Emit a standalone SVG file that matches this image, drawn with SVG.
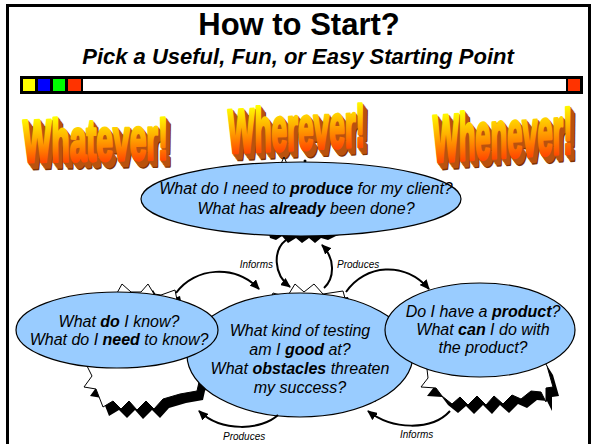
<svg xmlns="http://www.w3.org/2000/svg" width="591" height="444" viewBox="0 0 591 444">
  <defs>
    <style>
      .sans{font-family:"Liberation Sans",Arial,Helvetica,sans-serif}
      .title{font-weight:bold;fill:#000;text-anchor:middle}
      .q{font-style:italic;font-size:16px;fill:#000;text-anchor:middle}
      .b{font-weight:bold}
      .bubble{fill:#99ccff;stroke:#000;stroke-width:1.2}
      .burst{fill:#fff;stroke:#000;stroke-width:1}
      .shadow{fill:#000}
      .arrow{fill:none;stroke:#000;stroke-width:2;marker-end:url(#head)}
      .lbl{font-style:italic;font-size:10px;fill:#000}
      .wa{font-family:"Liberation Sans",Arial,sans-serif;font-weight:bold;font-size:50px;stroke-width:2.6;stroke-linejoin:round}
      .ext{fill:#b9520e;stroke:#b9520e}
      .ext2{fill:#7f3304;stroke:#7f3304}
      .face{fill:url(#waFace);stroke:url(#waFace)}
    </style>
    <linearGradient id="waFace" gradientUnits="userSpaceOnUse" x1="0" y1="-37" x2="0" y2="1">
      <stop offset="0" stop-color="#ffff00"/>
      <stop offset="0.45" stop-color="#ffb000"/>
      <stop offset="1" stop-color="#ff4800"/>
    </linearGradient>
    <marker id="head" markerWidth="10" markerHeight="9" refX="9" refY="4.5" orient="auto" markerUnits="userSpaceOnUse">
      <path d="M0,0 L10,4.5 L0,9 z" fill="#000"/>
    </marker>
    <!-- word art glyph runs, reused for extrusion layers and face -->
    <text id="wa1" class="wa" transform="matrix(0.6,-0.012,0,1.2,23,162)">Whatever!</text>
    <text id="wa2" class="wa" transform="matrix(0.56,-0.027,0,1.24,228,153)">Wherever!</text>
    <text id="wa3" class="wa" transform="matrix(0.545,-0.035,0,1.33,433,162)">Whenever!</text>
  </defs>

  <rect x="0" y="0" width="591" height="444" fill="#fff"/>
  <!-- slide frame -->
  <rect x="7.5" y="5.5" width="582" height="450" fill="none" stroke="#000" stroke-width="3"/>

  <!-- heading -->
  <g id="heading">
    <text class="sans title" x="299" y="35" font-size="31">How to Start?</text>
    <text class="sans title" x="298" y="64" font-size="22" font-style="italic">Pick a Useful, Fun, or Easy Starting Point</text>
  </g>

  <!-- colour strip -->
  <g id="strip">
    <rect x="20" y="76" width="563" height="18" fill="#000"/>
    <rect x="23" y="79" width="12" height="12" fill="#ffff00"/>
    <rect x="38" y="79" width="12" height="12" fill="#0000ff"/>
    <rect x="53" y="79" width="12" height="12" fill="#00ff00"/>
    <rect x="68" y="79" width="13" height="12" fill="#ff3300"/>
    <rect x="83" y="79" width="483" height="12" fill="#fff"/>
    <rect x="568" y="79" width="12" height="12" fill="#ff3300"/>
  </g>

  <!-- word art -->
  <g id="whatever">
    <use href="#wa1" class="ext2" x="5" y="7"/>
    <use href="#wa1" class="ext" x="4" y="5.6"/>
    <use href="#wa1" class="ext" x="3" y="4.2"/>
    <use href="#wa1" class="ext" x="2" y="2.8"/>
    <use href="#wa1" class="ext" x="1" y="1.4"/>
    <use href="#wa1" class="face"/>
  </g>
  <g id="wherever">
    <use href="#wa2" class="ext2" x="5" y="7"/>
    <use href="#wa2" class="ext" x="4" y="5.6"/>
    <use href="#wa2" class="ext" x="3" y="4.2"/>
    <use href="#wa2" class="ext" x="2" y="2.8"/>
    <use href="#wa2" class="ext" x="1" y="1.4"/>
    <use href="#wa2" class="face"/>
  </g>
  <g id="whenever">
    <use href="#wa3" class="ext2" x="5" y="7"/>
    <use href="#wa3" class="ext" x="4" y="5.6"/>
    <use href="#wa3" class="ext" x="3" y="4.2"/>
    <use href="#wa3" class="ext" x="2" y="2.8"/>
    <use href="#wa3" class="ext" x="1" y="1.4"/>
    <use href="#wa3" class="face"/>
  </g>

  <!-- jagged bursts behind the bubbles -->
  <g id="bursts">
    <!-- top bubble -->
    <polygon class="shadow" points="266,222 270,238 276,240 282,236 288,243 296,238 302,243 309,238 315,243 321,238 328,240 336,236 345,233 350,222"/>
    <polygon class="burst" points="280,166 284,157 288,166"/>
    <circle cx="305" cy="161" r="1.5" fill="#000"/>
    <!-- centre bubble -->
    <polygon class="shadow" transform="translate(5,6)" points="268,305 273,293 287,297 295,284 304,292 314,284 323,294 343,291 346,302 358,305 362,312 368,320 340,330 270,330"/>
    <polygon class="burst" points="268,305 273,293 287,297 295,284 304,292 314,284 323,294 343,291 346,302 358,305 362,312 368,320 340,330 270,330"/>
    <polygon class="shadow" points="368,398 374,394 376,402"/>
    <!-- left bubble -->
    <polygon class="shadow" transform="translate(5,6)" points="105,300 117,293 122,284 131,292 141,292 148,284 154,294 161,295 175,290 177,300 190,305 150,320 110,320"/>
    <polygon class="burst" points="105,300 117,293 122,284 131,292 141,292 148,284 154,294 161,295 175,290 177,300 190,305 150,320 110,320"/>
    <polygon class="shadow" transform="translate(6,9)" points="84,360 92,376 84,387 96,389 103,407 113,401 121,409 129,401 137,410 146,401 154,409 163,399 180,394 197,391 199,382 205,372 200,355"/>
    <polygon class="burst" points="84,360 92,376 84,387 96,389 103,407 113,401 121,409 129,401 137,410 146,401 154,409 163,399 180,394 197,391 199,382 205,372 200,355"/>
    <!-- right bubble -->
    <polygon class="shadow" transform="translate(6,9)" points="426,360 428,378 421,387 436,388 442,396 452,404 460,397 468,405 477,396 486,405 494,396 503,404 512,395 521,399 531,391 541,392 546,402 546,388 553,387 547,366 540,355"/>
    <polygon class="burst" points="426,360 428,378 421,387 436,388 442,396 452,404 460,397 468,405 477,396 486,405 494,396 503,404 512,395 521,399 531,391 541,392 546,402 546,388 553,387 547,366 540,355"/>
  </g>

  <!-- question bubbles -->
  <g id="deliverables">
    <ellipse class="bubble" cx="301" cy="199" rx="160" ry="37"/>
    <text class="sans q" x="306" y="194">What do I need to <tspan class="b">produce</tspan> for my client?</text>
    <text class="sans q" x="306" y="214">What has <tspan class="b">already</tspan> been done?</text>
  </g>
  <g id="skills">
    <ellipse class="bubble" cx="300" cy="355" rx="113" ry="62"/>
    <text class="sans q" x="300" y="336">What kind of testing</text>
    <text class="sans q" x="300" y="355">am I <tspan class="b">good</tspan> at?</text>
    <text class="sans q" x="300" y="374">What <tspan class="b">obstacles</tspan> threaten</text>
    <text class="sans q" x="300" y="393">my success?</text>
  </g>
  <g id="knowledge">
    <ellipse class="bubble" cx="117" cy="330" rx="101" ry="38"/>
    <text class="sans q" x="119" y="327">What <tspan class="b">do</tspan> I know?</text>
    <text class="sans q" x="119" y="345">What do I <tspan class="b">need</tspan> to know?</text>
  </g>
  <g id="product">
    <ellipse class="bubble" cx="480" cy="330" rx="95" ry="47"/>
    <text class="sans q" x="483" y="317">Do I have a <tspan class="b">product</tspan>?</text>
    <text class="sans q" x="483" y="335">What <tspan class="b">can</tspan> I do with</text>
    <text class="sans q" x="483" y="353">the product?</text>
  </g>

  <!-- connectors -->
  <g id="connectors">
    <path class="arrow" d="M286,240 C273,250 273,274 290,287"/>
    <path class="arrow" d="M324,288 C335,278 335,258 322,245"/>
    <path class="arrow" d="M176,293 C195,267 235,264 259,289"/>
    <path class="arrow" d="M346,292 C365,264 405,261 429,289"/>
    <path class="arrow" d="M278,415 C262,430 222,433 199,411"/>
    <path class="arrow" d="M450,411 C432,431 392,430 368,411"/>
    <text class="sans lbl" x="273" y="268" text-anchor="end">Informs</text>
    <text class="sans lbl" x="337" y="268">Produces</text>
    <text class="sans lbl" x="223" y="440">Produces</text>
    <text class="sans lbl" x="400" y="438">Informs</text>
  </g>
</svg>
